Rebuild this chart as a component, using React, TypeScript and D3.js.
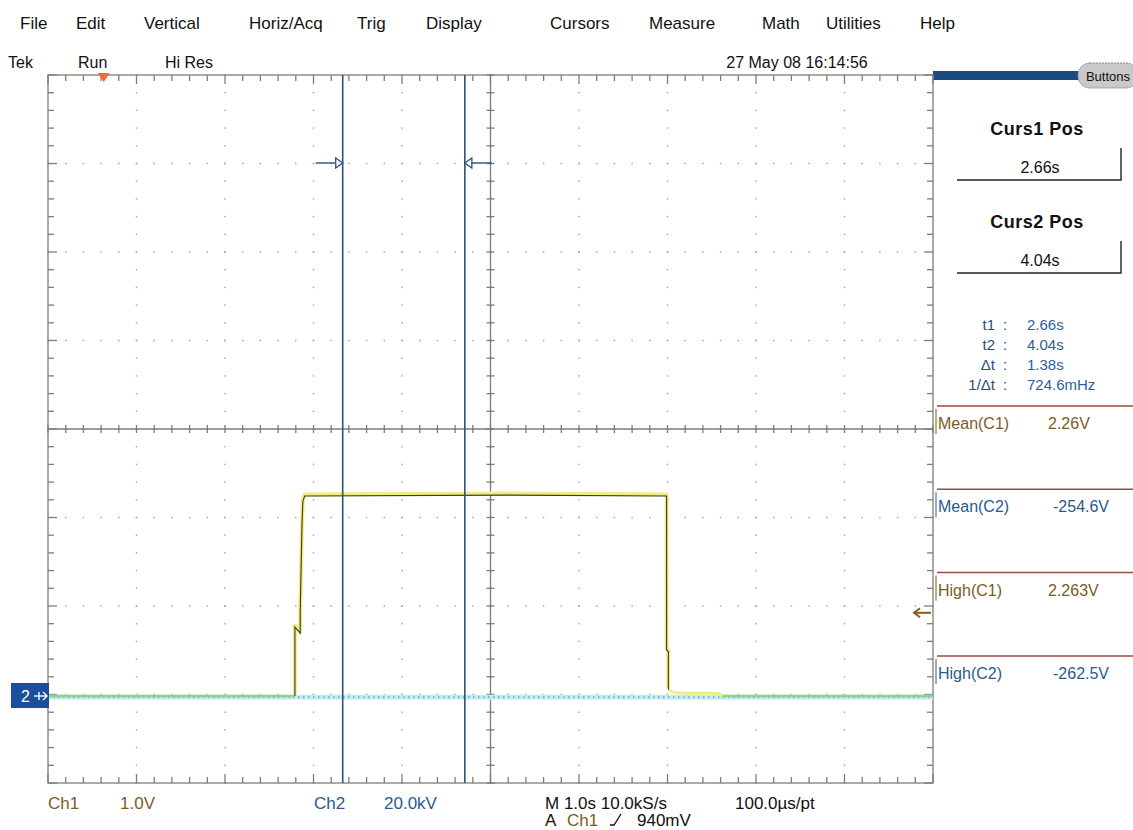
import * as d3 from 'd3';

const W = 1133;
const H = 830;
const PLOT = { left: 48, right: 933, top: 75, bottom: 783 };
const H_DIVS = 10;
const V_DIVS = 8;
const MINOR_PER_DIV = 5;

// ---- screen text ----
const menuItems = ['File', 'Edit', 'Vertical', 'Horiz/Acq', 'Trig', 'Display', 'Cursors', 'Measure', 'Math', 'Utilities', 'Help'];
const MENU_X = [20, 76, 144, 249, 357, 426, 550, 649, 762, 826, 920];

const statusItems = ['Tek', 'Run', 'Hi Res'];
const STATUS_X = [8, 78, 165];
const timestamp = '27 May 08 16:14:56';

const cursorTitles = ['Curs1 Pos', 'Curs2 Pos'];
const cursorTimes = [2.66, 4.04];
const cursorValueText = ['2.66s', '4.04s'];

const readoutLabels = ['t1', 't2', 'Δt', '1/Δt'];
const readoutValues = ['2.66s', '4.04s', '1.38s', '724.6mHz'];

const measLabels = ['Mean(C1)', 'Mean(C2)', 'High(C1)', 'High(C2)'];
const measValues = ['2.26V', '-254.6V', '2.263V', '-262.5V'];
const measChannel = [1, 2, 1, 2];

// ---- acquisition settings ----
const SEC_PER_DIV = 1.0;
const CH1_V_PER_DIV = 1.0;
const CH2_V_PER_DIV = 20000;
const T_LEFT = -0.67; // time at the left edge of the screen, s
const GROUND_DIVS = 0.983; // both channel grounds sit this far above the bottom edge
const TRIGGER_LEVEL = 0.94;
const TRIGGER_TIME = -0.04;

// ---- waveforms (s, V) ----
const ch1Time = [-0.67, 2.12, 2.12, 2.18, 2.18, 2.19, 2.2, 2.21, 2.23, 4.5, 6.32, 6.32, 6.34, 6.34, 6.4, 6.6, 6.9, 6.95, 9.33];
const ch1Volts = [0, 0, 0.78, 0.71, 0.94, 1.45, 1.95, 2.2, 2.26, 2.27, 2.26, 0.52, 0.5, 0.07, 0.04, 0.03, 0.03, 0, 0];
const ch2Time = [-0.67, 2.0, 4.0, 6.0, 9.33];
const ch2Volts = [-254.6, -254.6, -254.6, -254.6, -254.6];

const COL = {
  grat: '#7d7d78',
  dot: '#aaaaaa',
  cursor: '#2d5277',
  ch1Text: '#7d5c22',
  ch2Text: '#2a5a8c',
  ch1Glow: '#f1ee80',
  ch1Core: '#3a3a2c',
  ch2Glow: '#c4ecf6',
  ch2Core: '#5a86a8',
  green: '#8fd68a',
  marker: '#1b4f9e',
  sep: '#9b4a3c',
  trigPos: '#f06a3a',
  trigLvl: '#8a5a1a',
};

const FONT = '"Liberation Sans", Arial, sans-serif';

export default function App() {
  const xDiv = d3.scaleLinear().domain([0, H_DIVS]).range([PLOT.left, PLOT.right]);
  const yDiv = d3.scaleLinear().domain([0, V_DIVS]).range([PLOT.top, PLOT.bottom]);
  const xT = d3.scaleLinear().domain([T_LEFT, T_LEFT + H_DIVS * SEC_PER_DIV]).range([PLOT.left, PLOT.right]);
  const y1 = d3.scaleLinear()
    .domain([-GROUND_DIVS * CH1_V_PER_DIV, (V_DIVS - GROUND_DIVS) * CH1_V_PER_DIV])
    .range([PLOT.bottom, PLOT.top]);
  const y2 = d3.scaleLinear()
    .domain([-GROUND_DIVS * CH2_V_PER_DIV, (V_DIVS - GROUND_DIVS) * CH2_V_PER_DIV])
    .range([PLOT.bottom, PLOT.top]);

  const xMinor = d3.range(0, H_DIVS * MINOR_PER_DIV + 1).map((i) => xDiv(i / MINOR_PER_DIV));
  const yMinor = d3.range(0, V_DIVS * MINOR_PER_DIV + 1).map((i) => yDiv(i / MINOR_PER_DIV));
  const cx = xDiv(H_DIVS / 2);
  const cy = yDiv(V_DIVS / 2);

  const ch1Pts = ch1Time.map((t, i) => [t, ch1Volts[i]] as [number, number]);
  const ch2Pts = ch2Time.map((t, i) => [t, ch2Volts[i]] as [number, number]);
  const line1 = d3.line<[number, number]>().x((d) => xT(d[0])).y((d) => y1(d[1]));
  const line2 = d3.line<[number, number]>().x((d) => xT(d[0])).y((d) => y2(d[1]));

  // split ch1 into its baseline parts (drawn green over ch2) and the pulse
  const riseIdx = ch1Volts.findIndex((v) => v > 0.1) - 1;
  const fallEnd = ch1Volts.length - 1 - [...ch1Volts].reverse().findIndex((v) => v > 0.06);
  const settleIdx = ch1Volts.length - 2;
  const lowLeft = ch1Pts.slice(0, riseIdx + 1);
  const active = ch1Pts.slice(riseIdx, fallEnd + 1);
  const tail = ch1Pts.slice(fallEnd, settleIdx + 1);
  const lowRight = ch1Pts.slice(settleIdx - 1);

  const groundY = y2(0);
  const trigX = xT(TRIGGER_TIME);
  const trigY = y1(TRIGGER_LEVEL);

  return (
    <svg
      width={W}
      height={H}
      viewBox={`0 0 ${W} ${H}`}
      style={{ position: 'absolute', left: 0, top: 0, background: '#fff', fontFamily: FONT }}
    >
      {/* menu bar */}
      {menuItems.map((m, i) => (
        <text key={m} x={MENU_X[i]} y={29} fontSize={17} fill="#111">{m}</text>
      ))}
      {statusItems.map((s, i) => (
        <text key={s} x={STATUS_X[i]} y={68} fontSize={16} fill="#111">{s}</text>
      ))}
      <text x={797} y={68} fontSize={16} textAnchor="middle" fill="#111">{timestamp}</text>

      {/* right panel header */}
      <rect x={PLOT.right} y={71} width={150} height={9} fill="#1d4a80" />
      <rect x={1078} y={63} width={60} height={25} rx={12} fill="#c9c9c9" stroke="#8a8a8a" strokeDasharray="2,1" />
      <text x={1108} y={81} fontSize={13} textAnchor="middle" fill="#111">Buttons</text>

      {/* graticule dots */}
      <g fill={COL.dot}>
        {d3.range(1, H_DIVS).map((d) =>
          yMinor.map((y, j) => <rect key={`v${d}-${j}`} x={xDiv(d) - 0.75} y={y - 0.75} width={1.5} height={1.5} />)
        )}
        {d3.range(1, V_DIVS).map((d) =>
          xMinor.map((x, j) => <rect key={`h${d}-${j}`} x={x - 0.75} y={yDiv(d) - 0.75} width={1.5} height={1.5} />)
        )}
      </g>

      {/* graticule frame, edge ticks and centre axes */}
      <g stroke={COL.grat} strokeWidth={1.3}>
        <rect x={PLOT.left} y={PLOT.top} width={PLOT.right - PLOT.left} height={PLOT.bottom - PLOT.top} fill="none" />
        {xMinor.map((x, i) => {
          const len = i % MINOR_PER_DIV === 0 ? 9 : 6;
          return (
            <g key={`xt${i}`}>
              <line x1={x} x2={x} y1={PLOT.top} y2={PLOT.top + len} />
              <line x1={x} x2={x} y1={PLOT.bottom} y2={PLOT.bottom - len} />
              <line x1={x} x2={x} y1={cy - 4} y2={cy + 4} />
            </g>
          );
        })}
        {yMinor.map((y, i) => {
          const len = i % MINOR_PER_DIV === 0 ? 9 : 6;
          return (
            <g key={`yt${i}`}>
              <line x1={PLOT.left} x2={PLOT.left + len} y1={y} y2={y} />
              <line x1={PLOT.right} x2={PLOT.right - len} y1={y} y2={y} />
              <line x1={cx - 4} x2={cx + 4} y1={y} y2={y} />
            </g>
          );
        })}
        <line x1={PLOT.left} x2={PLOT.right} y1={cy} y2={cy} />
        <line x1={cx} x2={cx} y1={PLOT.top} y2={PLOT.bottom} />
      </g>

      {/* channel 2 */}
      <path d={line2(ch2Pts) ?? ''} fill="none" stroke={COL.ch2Glow} strokeWidth={5} />
      <path d={line2(ch2Pts) ?? ''} fill="none" stroke={COL.ch2Core} strokeWidth={1.1} strokeDasharray="1.5,3.5" />

      {/* channel 1 */}
      <path d={line1(lowLeft) ?? ''} fill="none" stroke={COL.green} strokeWidth={2.4} />
      <path d={line1(lowRight) ?? ''} fill="none" stroke={COL.green} strokeWidth={2.4} />
      <path d={line1(tail) ?? ''} fill="none" stroke={COL.ch1Glow} strokeWidth={3} />
      <path d={line1(active) ?? ''} fill="none" stroke={COL.ch1Glow} strokeWidth={4} strokeLinejoin="round" transform="translate(0,-1.5)" />
      <path d={line1(active) ?? ''} fill="none" stroke={COL.ch1Core} strokeWidth={1.1} />

      {/* cursors */}
      {cursorTimes.map((t, i) => {
        const x = xT(t);
        const dir = i === 0 ? -1 : 1;
        const my = 163;
        return (
          <g key={`c${i}`} stroke={COL.cursor}>
            <line x1={x} x2={x} y1={PLOT.top} y2={PLOT.bottom} strokeWidth={1.6} />
            <line x1={x + dir * 7} x2={x + dir * 27} y1={my} y2={my} strokeWidth={1.4} />
            <path d={`M${x},${my} L${x + dir * 7},${my - 5} L${x + dir * 7},${my + 5} Z`} fill="#fff" strokeWidth={1.3} />
          </g>
        );
      })}

      {/* trigger position and level markers */}
      <path d={`M${trigX - 6},${PLOT.top - 2} L${trigX + 6},${PLOT.top - 2} L${trigX},${PLOT.top + 7} Z`} fill={COL.trigPos} />
      <g stroke={COL.trigLvl} strokeWidth={2} fill="none">
        <line x1={915} x2={931} y1={trigY} y2={trigY} />
        <path d={`M920,${trigY - 4.5} L914,${trigY} L920,${trigY + 4.5}`} />
      </g>

      {/* channel 2 ground marker */}
      <rect x={11} y={groundY - 13} width={38} height={25} fill={COL.marker} />
      <text x={21} y={groundY + 6} fontSize={16} fill="#fff">2</text>
      <g stroke="#fff" strokeWidth={1.4} fill="none">
        <line x1={34} x2={47} y1={groundY} y2={groundY} />
        <line x1={39} x2={39} y1={groundY - 4} y2={groundY + 4} />
        <path d={`M43,${groundY - 4} L47,${groundY} L43,${groundY + 4}`} />
      </g>

      {/* cursor position boxes */}
      {cursorTitles.map((title, i) => {
        const top = 93 * i;
        return (
          <g key={title}>
            <text x={1037} y={135 + top} fontSize={18} fontWeight="bold" textAnchor="middle" fill="#111" letterSpacing={0.5}>{title}</text>
            <text x={1040} y={173 + top} fontSize={16} textAnchor="middle" fill="#111">{cursorValueText[i]}</text>
            <path d={`M957,${180 + top} H1121 V${148 + top}`} fill="none" stroke="#222" strokeWidth={1.4} />
          </g>
        );
      })}

      {/* cursor readouts */}
      {readoutLabels.map((l, i) => (
        <g key={l} fontSize={15}>
          <text x={995} y={330 + i * 20} textAnchor="end" fill="#2c4d78">{l}</text>
          <text x={1003} y={330 + i * 20} fill="#2c4d78">:</text>
          <text x={1027} y={330 + i * 20} fill="#2f5d9a">{readoutValues[i]}</text>
        </g>
      ))}

      {/* measurements */}
      {measLabels.map((l, i) => {
        const top = 406 + i * 83.3;
        const color = measChannel[i] === 1 ? COL.ch1Text : COL.ch2Text;
        return (
          <g key={l}>
            <line x1={937} x2={W} y1={top} y2={top} stroke={COL.sep} strokeWidth={1.5} />
            <line x1={936} x2={936} y1={top + 3} y2={top + 28} stroke={color} strokeWidth={1} />
            <text x={938} y={top + 23} fontSize={16} fill={color}>{l}</text>
            <text x={measChannel[i] === 1 ? 1048 : 1053} y={top + 23} fontSize={16} fill={color}>{measValues[i]}</text>
          </g>
        );
      })}

      {/* bottom status */}
      <g fontSize={17}>
        <text x={48} y={809} fill={COL.ch1Text}>Ch1</text>
        <text x={120} y={809} fill={COL.ch1Text}>{`${CH1_V_PER_DIV.toFixed(1)}V`}</text>
        <text x={314} y={809} fill={COL.ch2Text}>Ch2</text>
        <text x={384} y={809} fill={COL.ch2Text}>{`${(CH2_V_PER_DIV / 1000).toFixed(1)}kV`}</text>
        <text x={545} y={809} fill="#111">{`M ${SEC_PER_DIV.toFixed(1)}s 10.0kS/s`}</text>
        <text x={735} y={809} fill="#111">100.0µs/pt</text>
        <text x={545} y={826} fill="#111">A</text>
        <text x={567} y={826} fill={COL.ch1Text}>Ch1</text>
        <text x={637} y={826} fill="#111">{`${Math.round(TRIGGER_LEVEL * 1000)}mV`}</text>
      </g>
      <path d="M610,825 H614 L621,814" fill="none" stroke="#111" strokeWidth={1.3} />
    </svg>
  );
}
